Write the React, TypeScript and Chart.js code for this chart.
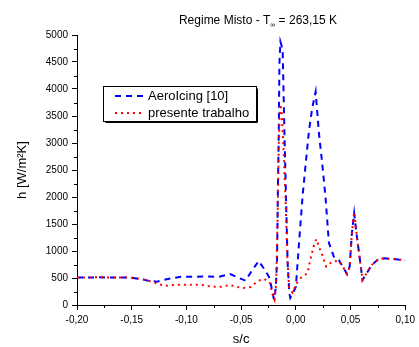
import React, { useEffect, useRef } from "react";
import { Chart, registerables } from "chart.js";

Chart.register(...registerables);

// ---- data ----
const aeroS = [
  -0.2, -0.18, -0.16, -0.15, -0.14, -0.135, -0.127, -0.117, -0.105, -0.095, -0.085, -0.07, -0.06,
  -0.053, -0.046, -0.04, -0.034, -0.028, -0.024, -0.02, -0.0185, -0.0172, -0.0165, -0.0156, -0.015,
  -0.0141, -0.013, -0.012, -0.0105, -0.009, -0.0075, -0.006, -0.0051, -0.003, 0.0, 0.0031, 0.0061,
  0.009, 0.0121, 0.015, 0.0181, 0.0211, 0.0241, 0.0271, 0.0302, 0.0347, 0.0392, 0.0437, 0.0467,
  0.0492, 0.0512, 0.0533, 0.0558, 0.0582, 0.0609, 0.0648, 0.0693, 0.0754, 0.0813, 0.0889, 0.098, 0.1,
];
const aeroH = [
  510, 512, 510, 505, 475, 450, 432, 481, 524, 524, 527, 524, 574,
  510, 450, 640, 815, 640, 500, 100, 300, 777, 2000, 3240, 4480,
  4876, 4800, 4670, 3240, 2000, 777, 222, 130, 200, 340, 1200, 2000,
  2620, 3240, 3650, 3950, 3180, 2620, 2000, 1150, 895, 833, 685, 574,
  710, 1330, 1700, 1265, 895, 463, 590, 740, 846, 865, 852, 833, 830,
];

const presS = [
  -0.2, -0.18, -0.16, -0.15, -0.14, -0.134, -0.1195, -0.113, -0.107, -0.1, -0.094, -0.088, -0.08,
  -0.074, -0.068, -0.06, -0.054, -0.048, -0.041, -0.035, -0.029, -0.024, -0.021, -0.0195, -0.018,
  -0.0165, -0.0155, -0.0145, -0.013, -0.0115, -0.0095, -0.0078, -0.0062, -0.003, 0.0005, 0.0045,
  0.0106, 0.0136, 0.0166, 0.0187, 0.0211, 0.0241, 0.0277, 0.0332, 0.0392, 0.0437, 0.0467, 0.0492,
  0.0512, 0.0533, 0.0558, 0.0582, 0.0609, 0.0648, 0.0693, 0.0754, 0.0813, 0.0889, 0.098, 0.1,
];
const presH = [
  510, 512, 510, 505, 475, 444, 352, 370, 376, 376, 376, 376, 352,
  340, 340, 370, 333, 315, 333, 444, 481, 426, 185, 100, 400,
  1800, 3050, 3720, 3600, 3000, 2000, 900, 320, 228, 400, 500,
  590, 870, 1110, 1220, 1080, 925, 710, 800, 820, 685, 574, 710,
  1330, 1720, 1265, 895, 463, 590, 740, 846, 865, 852, 833, 830,
];

const xTicks = [-0.2, -0.15, -0.1, -0.05, 0, 0.05, 0.1];
const xMinorTicks = [-0.175, -0.125, -0.075, -0.025, 0.025, 0.075];
const yTicks = [0, 500, 1000, 1500, 2000, 2500, 3000, 3500, 4000, 4500, 5000];
const yMinorTicks = [250, 750, 1250, 1750, 2250, 2750, 3250, 3750, 4250, 4750];

const seriesLabels = ["AeroIcing [10]", "presente trabalho"];
const titleMain = "Regime Misto - T";
const titleSub = "\u221e";
const titleRest = " = 263,15 K";
const xTitle = "s/c";
const yTitle = "h [W/m\u00b2K]";

const FONT = "'Liberation Sans', Arial, sans-serif";

const decorPlugin = {
  id: "decor",
  afterDraw(chart: any) {
    const ctx = chart.ctx;
    const xs = chart.scales.x;
    const ys = chart.scales.y;
    const area = chart.chartArea;
    ctx.save();
    // minor ticks
    ctx.strokeStyle = "#000";
    ctx.lineWidth = 1;
    ctx.beginPath();
    xMinorTicks.forEach((v) => {
      const px = Math.round(xs.getPixelForValue(v)) + 0.5;
      ctx.moveTo(px, area.bottom);
      ctx.lineTo(px, area.bottom + 3);
    });
    yMinorTicks.forEach((v) => {
      const py = Math.round(ys.getPixelForValue(v)) + 0.5;
      ctx.moveTo(area.left, py);
      ctx.lineTo(area.left - 3, py);
    });
    ctx.stroke();

    // title with subscript
    ctx.fillStyle = "#000";
    ctx.textBaseline = "alphabetic";
    ctx.font = `12px ${FONT}`;
    const wMain = ctx.measureText(titleMain).width;
    const wRest = ctx.measureText(titleRest).width;
    ctx.font = `7px ${FONT}`;
    const wSub = ctx.measureText(titleSub).width;
    const total = wMain + wSub + wRest;
    const right = 337;
    let tx = right - total;
    const ty = 24;
    ctx.font = `12px ${FONT}`;
    ctx.textAlign = "left";
    ctx.fillText(titleMain, tx, ty);
    tx += wMain;
    ctx.font = `7px ${FONT}`;
    ctx.fillText(titleSub, tx, ty + 3);
    tx += wSub;
    ctx.font = `12px ${FONT}`;
    ctx.fillText(titleRest, tx, ty);

    // legend box
    const bx = 103.5, by = 86.5, bw = 153, bh = 35;
    ctx.lineWidth = 1;
    ctx.strokeStyle = "#000";
    ctx.strokeRect(bx, by, bw, bh);
    ctx.beginPath();
    ctx.moveTo(bx + bw + 1, by + 2);
    ctx.lineTo(bx + bw + 1, by + bh + 1);
    ctx.lineTo(bx + 2, by + bh + 1);
    ctx.stroke();

    const rows = [96, 113];
    chart.data.datasets.forEach((ds: any, i: number) => {
      const y = rows[i];
      ctx.save();
      ctx.strokeStyle = ds.borderColor;
      ctx.lineWidth = ds.borderWidth;
      ctx.setLineDash(ds.borderDash || []);
      ctx.beginPath();
      ctx.moveTo(115, y);
      ctx.lineTo(144, y);
      ctx.stroke();
      ctx.restore();
      ctx.fillStyle = "#000";
      ctx.font = `13px ${FONT}`;
      ctx.textBaseline = "middle";
      ctx.textAlign = "left";
      ctx.fillText(ds.label, 148, y + 0.5);
    });
    ctx.restore();
  },
};

export default function App() {
  const ref = useRef<HTMLCanvasElement | null>(null);
  useEffect(() => {
    document.body.style.margin = "0";
    if (!ref.current) return;
    const chart = new Chart(ref.current, {
      type: "line",
      data: {
        datasets: [
          {
            label: seriesLabels[0],
            data: aeroS.map((s, i) => ({ x: s, y: aeroH[i] })),
            borderColor: "#0000ff",
            borderWidth: 2,
            borderDash: [6, 5],
            pointRadius: 0,
            tension: 0,
            fill: false,
            order: 2,
          },
          {
            label: seriesLabels[1],
            data: presS.map((s, i) => ({ x: s, y: presH[i] })),
            borderColor: "#ff0000",
            borderWidth: 2,
            borderDash: [2, 4],
            pointRadius: 0,
            tension: 0,
            fill: false,
            order: 1,
          },
        ],
      },
      options: {
        responsive: false,
        animation: false,
        devicePixelRatio: 1,
        layout: { padding: { left: 0, top: 35, right: 10, bottom: 0 } },
        plugins: {
          legend: { display: false },
          title: { display: false },
          tooltip: { enabled: false },
        },
        scales: {
          x: {
            type: "linear",
            min: -0.2,
            max: 0.1,
            afterBuildTicks: (scale: any) => {
              scale.ticks = xTicks.map((v) => ({ value: v }));
            },
            afterFit: (scale: any) => {
              scale.height = 42;
            },
            ticks: {
              autoSkip: false,
              maxRotation: 0,
              padding: 4,
              color: "#000",
              font: { family: FONT, size: 10 },
              callback: (v: any) => {
                const n = Math.abs(Number(v)) < 1e-9 ? 0 : Number(v);
                return n.toFixed(2).replace(".", ",");
              },
            },
            grid: {
              display: true,
              drawOnChartArea: false,
              drawTicks: true,
              tickLength: 5,
              tickColor: "#000",
              tickWidth: 1,
            },
            border: { display: true, color: "#000", width: 1 },
            title: {
              display: true,
              text: xTitle,
              color: "#000",
              font: { family: FONT, size: 13 },
              padding: { top: 0, bottom: 0 },
            },
          },
          y: {
            type: "linear",
            min: 0,
            max: 5000,
            afterBuildTicks: (scale: any) => {
              scale.ticks = yTicks.map((v) => ({ value: v }));
            },
            afterFit: (scale: any) => {
              scale.width = 77;
            },
            ticks: {
              autoSkip: false,
              padding: 4,
              color: "#000",
              font: { family: FONT, size: 10 },
              callback: (v: any) => String(v),
            },
            grid: {
              display: true,
              drawOnChartArea: false,
              drawTicks: true,
              tickLength: 5,
              tickColor: "#000",
              tickWidth: 1,
            },
            border: { display: true, color: "#000", width: 1 },
            title: {
              display: true,
              text: yTitle,
              color: "#000",
              font: { family: FONT, size: 13 },
              padding: { top: 15, bottom: 0 },
            },
          },
        },
      },
      plugins: [decorPlugin],
    } as any);
    return () => chart.destroy();
  }, []);
  return (
    <div style={{ position: "absolute", left: 0, top: 0, width: 419, height: 347 }}>
      <canvas ref={ref} width={419} height={347} />
    </div>
  );
}
